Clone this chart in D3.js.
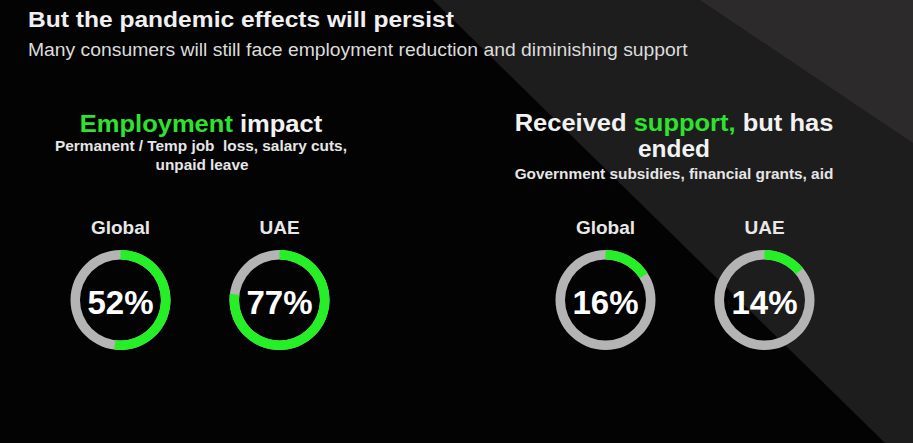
<!DOCTYPE html>
<html>
<head>
<meta charset="utf-8">
<script src="https://cdn.jsdelivr.net/npm/d3@7"></script>
<style>
  html, body { margin: 0; padding: 0; background: #000; }
  svg { display: block; font-family: "Liberation Sans", Arial, sans-serif; }
</style>
</head>
<body>
<svg id="chart" width="913" height="443"></svg>
<script>
// data
const panels = ["employment", "support"];
const regions = ["Global", "UAE"];
const employmentValues = [52, 77];
const supportValues = [16, 14];

const width = 913, height = 443;
const green = "#2fe22f";
const ringGreen = "#25f025";
const ringGray = "#b4b4b4";

const svg = d3.select("#chart");

// background: black with two diagonal grey panels
svg.append("rect").attr("width", width).attr("height", height).attr("fill", "#030303");

let line = d3.line();
svg.append("path")
    .attr("d", line([[433, 0], [913, 0], [913, 443], [885, 443]]) + "Z")
    .attr("fill", "#1d1d1d");
svg.append("path")
    .attr("d", line([[700, 0], [913, 0], [913, 143]]) + "Z")
    .attr("fill", "#2d2a2b");

// stretch a text horizontally so it covers the same width as on the slide
function fitWidth(sel, target, cx) {
    let w = sel.node().getBBox().width;
    let k = target / w;
    sel.attr("transform", "translate(" + cx + ",0) scale(" + k + ",1) translate(" + (-cx) + ",0)");
}

// headline
let title = svg.append("text")
    .attr("x", 28).attr("y", 27.5)
    .attr("font-size", 22).attr("font-weight", "bold")
    .attr("fill", "#f0f0f0")
    .text("But the pandemic effects will persist");
fitWidth(title, 427, 28);

let sub = svg.append("text")
    .attr("x", 28).attr("y", 56.5)
    .attr("font-size", 18)
    .attr("fill", "#dcdcdc")
    .text("Many consumers will still face employment reduction and diminishing support");
fitWidth(sub, 660, 28);

// panel positions
let panelX = d3.scalePoint().domain(panels).range([200, 685]);
let regionX = d3.scalePoint().domain(regions).range([-79.5, 79.5]);
let angle = d3.scaleLinear().domain([0, 100]).range([0, 2 * Math.PI]);

let arc = d3.arc()
    .innerRadius(40.5)
    .outerRadius(50);

// panel headings
let h1 = svg.append("text")
    .attr("x", 201).attr("y", 132)
    .attr("text-anchor", "middle")
    .attr("font-size", 23).attr("font-weight", "bold");
h1.append("tspan").attr("fill", green).text("Employment");
h1.append("tspan").attr("fill", "#f2f2f2").text(" impact");
fitWidth(h1, 243, 201);

let s1 = svg.append("text")
    .attr("x", 201).attr("y", 151.5)
    .attr("text-anchor", "middle")
    .attr("font-size", 14.5).attr("font-weight", "bold")
    .attr("fill", "#e6e6e6")
    .text("Permanent / Temp job \u00a0loss, salary cuts,");
fitWidth(s1, 292, 201);

let s1b = svg.append("text")
    .attr("x", 202).attr("y", 170.5)
    .attr("text-anchor", "middle")
    .attr("font-size", 14.5).attr("font-weight", "bold")
    .attr("fill", "#e6e6e6")
    .text("unpaid leave");
fitWidth(s1b, 93, 202);

let h2 = svg.append("text")
    .attr("x", 674).attr("y", 131.5)
    .attr("text-anchor", "middle")
    .attr("font-size", 23).attr("font-weight", "bold");
h2.append("tspan").attr("fill", "#f2f2f2").text("Received ");
h2.append("tspan").attr("fill", green).text("support,");
h2.append("tspan").attr("fill", "#f2f2f2").text(" but has");
fitWidth(h2, 319, 674);

let h2b = svg.append("text")
    .attr("x", 674).attr("y", 157.5)
    .attr("text-anchor", "middle")
    .attr("font-size", 23).attr("font-weight", "bold")
    .attr("fill", "#f2f2f2")
    .text("ended");
fitWidth(h2b, 72, 674);

let s2 = svg.append("text")
    .attr("x", 674).attr("y", 179)
    .attr("text-anchor", "middle")
    .attr("font-size", 14.5).attr("font-weight", "bold")
    .attr("fill", "#e6e6e6")
    .text("Government subsidies, financial grants, aid");
fitWidth(s2, 319, 674);

// donuts
let donuts = [];
panels.forEach((p, i) => {
    let vals = i === 0 ? employmentValues : supportValues;
    regions.forEach((r, j) => {
        donuts.push({ panel: p, region: r, value: vals[j] });
    });
});

let cy = 300;

let g = svg.selectAll(".donut")
    .data(donuts)
    .enter()
    .append("g")
    .attr("class", "donut")
    .attr("transform", d => "translate(" + (panelX(d.panel) + regionX(d.region)) + "," + cy + ")");

g.append("path")
    .attr("d", arc({ startAngle: 0, endAngle: 2 * Math.PI }))
    .attr("fill", ringGray);

g.append("path")
    .attr("d", d => arc({ startAngle: 0, endAngle: angle(d.value) }))
    .attr("fill", ringGreen);

g.append("text")
    .attr("y", 14)
    .attr("text-anchor", "middle")
    .attr("font-size", 33).attr("font-weight", "bold")
    .attr("fill", "#ffffff")
    .text(d => d.value + "%");

g.append("text")
    .attr("y", -66)
    .attr("text-anchor", "middle")
    .attr("font-size", 19).attr("font-weight", "bold")
    .attr("fill", "#e8e8e8")
    .text(d => d.region);
</script>
</body>
</html>
